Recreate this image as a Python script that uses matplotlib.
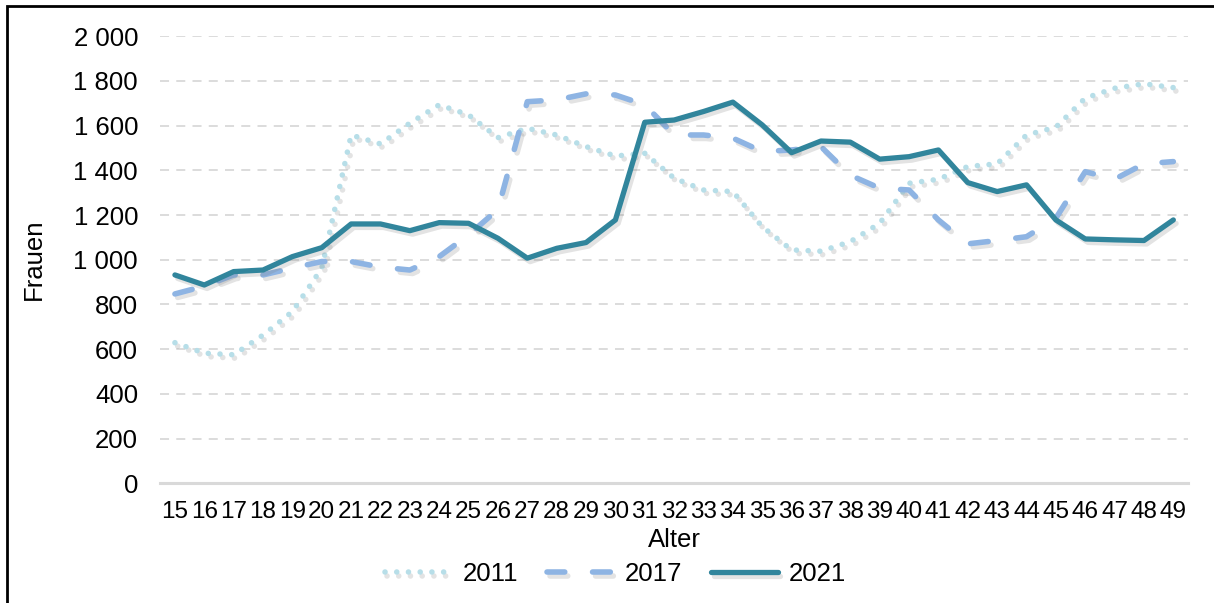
import matplotlib
matplotlib.use('Agg')
import matplotlib.pyplot as plt
import matplotlib.patheffects as pe
from matplotlib.patches import Rectangle
from matplotlib.ticker import FuncFormatter

# Daten
alter = list(range(15, 50))
frauen_2011 = [629, 582, 575, 663, 768, 962, 1558, 1518, 1611, 1693, 1648, 1546, 1588, 1558, 1506,
               1464, 1476, 1365, 1312, 1305, 1148, 1044, 1038, 1081, 1163, 1342, 1360, 1417, 1429,
               1558, 1593, 1723, 1767, 1787, 1770]
frauen_2017 = [847, 882, 932, 932, 963, 992, 992, 967, 954, 1014, 1111, 1225, 1707, 1715, 1742,
               1737, 1693, 1558, 1558, 1544, 1484, 1491, 1506, 1378, 1320, 1312, 1178, 1071, 1086,
               1103, 1186, 1394, 1360, 1429, 1439]
frauen_2021 = [932, 887, 947, 954, 1014, 1054, 1160, 1160, 1130, 1166, 1163, 1096, 1007, 1051, 1077,
               1178, 1615, 1625, 1663, 1705, 1603, 1479, 1531, 1526, 1450, 1461, 1491, 1345, 1305,
               1335, 1178, 1093, 1089, 1086, 1178]
jahre = ['2011', '2017', '2021']

plt.rcParams['font.family'] = ['Liberation Sans', 'DejaVu Sans']
fs = 18.5

fig = plt.figure(figsize=(12.14, 6.03), dpi=100)
ax = fig.add_axes([0.132, 0.1985, 0.8466, 0.7415])

schatten = [pe.SimpleLineShadow(offset=(2, -2.5), shadow_color='gray', alpha=0.22), pe.Normal()]

x = list(range(len(alter)))
ax.plot(x, frauen_2011, color='#b7dee8', linewidth=4, dashes=(0.01, 2.1),
        dash_capstyle='round', label=jahre[0], path_effects=schatten)
ax.plot(x, frauen_2017, color='#8eb4e3', linewidth=4, dashes=(3.2, 5.0),
        dash_capstyle='round', label=jahre[1], path_effects=schatten)
ax.plot(x, frauen_2021, color='#31859c', linewidth=3.8, solid_capstyle='round',
        label=jahre[2], path_effects=schatten)

# Achsen
ax.set_xlim(-0.5, len(alter) - 0.5)
ax.set_ylim(0, 2000)
ax.set_xticks(x)
ax.set_xticklabels([str(a) for a in alter])
ax.set_yticks(range(0, 2001, 200))
ax.yaxis.set_major_formatter(FuncFormatter(lambda v, p: f'{int(v):,}'.replace(',', ' ')))
ax.tick_params(axis='both', length=0)
ax.tick_params(axis='y', pad=16, labelsize=fs)
ax.tick_params(axis='x', pad=13, labelsize=17.5)

ax.grid(axis='y', color='#d9d9d9', linewidth=1.3, linestyle=(0, (5, 4)))
ax.set_axisbelow(True)
for s in ['top', 'right', 'left']:
    ax.spines[s].set_visible(False)
ax.spines['bottom'].set_color('#d9d9d9')
ax.spines['bottom'].set_linewidth(2.2)

ax.set_xlabel('Alter', fontsize=fs, labelpad=3)
ax.set_ylabel('Frauen', fontsize=fs, labelpad=20)

# Legende
ax.legend(loc='upper center', bbox_to_anchor=(0.443, -0.125), ncol=3, frameon=False,
          fontsize=fs, handlelength=2.6, handletextpad=0.45, columnspacing=1.1)

# Rahmen
fig.patches.append(Rectangle((7 / 1214, -0.1), 1.2, 1 - 6 / 603 + 0.1, transform=fig.transFigure,
                             fill=False, edgecolor='black', linewidth=2))

plt.savefig('out.png', dpi=100)
